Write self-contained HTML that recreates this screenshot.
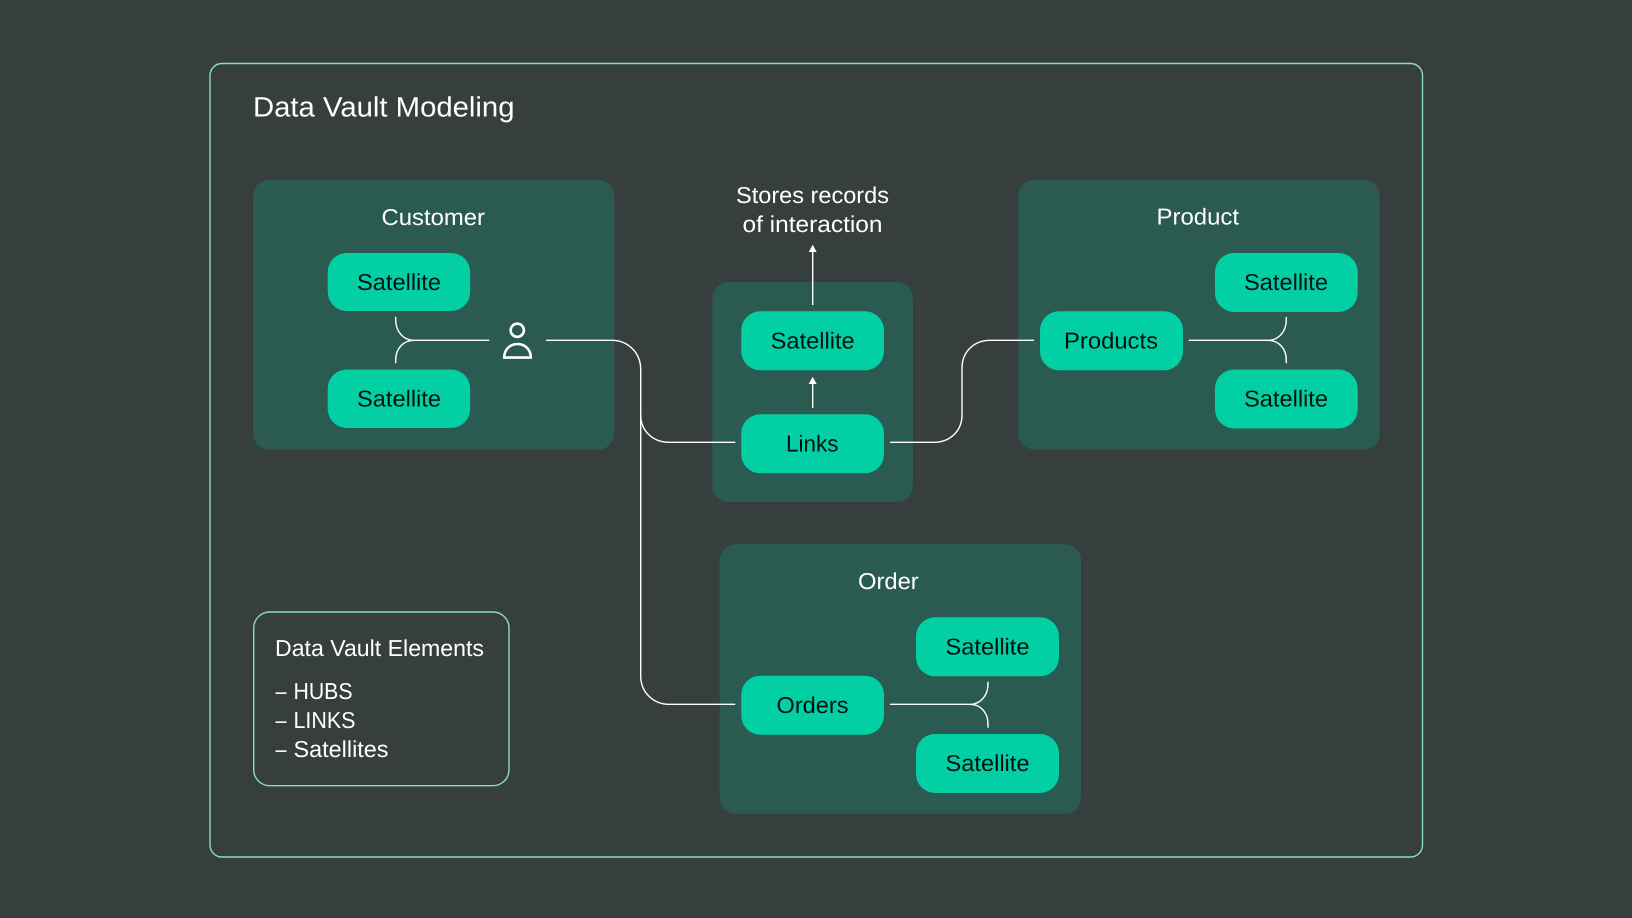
<!DOCTYPE html>
<html>
<head>
<meta charset="utf-8">
<style>
html,body{margin:0;padding:0;background:#373f3e;width:1632px;height:918px;overflow:hidden}
svg{display:block}
text{font-family:"Liberation Sans",sans-serif;text-rendering:geometricPrecision}
.w{fill:#fff}
.n{fill:#00120e}
.t{font-size:23px}
.c{fill:none;stroke:#fff;stroke-width:1.4}
</style>
</head>
<body>
<svg width="1632" height="918" viewBox="0 0 1632 918" xmlns="http://www.w3.org/2000/svg">
<rect width="1632" height="918" fill="#373f3e"/>
<rect x="210" y="63.5" width="1212.5" height="793.5" rx="12" fill="none" stroke="#8adcc5" stroke-width="1.4"/>
<text class="w" x="253" y="116.5" font-size="28" textLength="261.5" lengthAdjust="spacingAndGlyphs">Data Vault Modeling</text>

<rect x="253" y="180" width="361.3" height="269.5" rx="16" fill="#2b5b50"/>
<rect x="712.3" y="282" width="200.7" height="220" rx="16" fill="#2b5b50"/>
<rect x="1018.3" y="180" width="361.4" height="269.5" rx="16" fill="#2b5b50"/>
<rect x="719.7" y="544.3" width="361.3" height="269.5" rx="16" fill="#2b5b50"/>

<g fill="#03cfa5">
<rect x="327.7" y="253" width="142.5" height="58" rx="19"/>
<rect x="327.7" y="369.5" width="142.5" height="58.5" rx="19"/>
<rect x="741.3" y="311.3" width="142.7" height="59" rx="19"/>
<rect x="741.3" y="414.3" width="142.7" height="59" rx="19"/>
<rect x="1040" y="311.3" width="143" height="59" rx="19"/>
<rect x="1215" y="253" width="142.7" height="59" rx="19"/>
<rect x="1215" y="369.5" width="142.7" height="59" rx="19"/>
<rect x="741.3" y="675.7" width="142.7" height="59" rx="19"/>
<rect x="916" y="617.3" width="143" height="59" rx="19"/>
<rect x="916" y="734" width="143" height="59" rx="19"/>
</g>

<!-- connectors -->
<path class="c" d="M395.7 316.7 V320 C395.7 331 403 340.3 414 340.3 H489.3 M395.7 363.3 V360 C395.7 349 403 340.3 414 340.3"/>
<path class="c" d="M546 340.3 H612 C628 340.3 640.7 353 640.7 369 V676 C640.7 692 653 704.3 669 704.3 H735.3"/>
<path class="c" d="M640.7 415 C640.7 431 653 442.3 669 442.3 H735.3"/>
<path class="c" d="M890 442.3 H934 C950 442.3 962 431 962 415 V368 C962 352 974 340.3 990 340.3 H1034"/>
<path class="c" d="M1188.7 340.3 H1268 C1279 340.3 1286.3 331 1286.3 320 V317 M1268 340.3 C1279 340.3 1286.3 349 1286.3 360 V363.3"/>
<path class="c" d="M890 704.3 H970 C981 704.3 988 695 988 684 V681.7 M970 704.3 C981 704.3 988 713 988 724 V727.7"/>
<path class="c" d="M812.7 305 V250"/>
<path class="c" d="M812.7 408 V382"/>
<path d="M812.7 244.7 L816.7 252 H808.7 Z M812.7 376.7 L816.7 384 H808.7 Z" fill="#fff"/>

<!-- person -->
<circle cx="517.3" cy="330.3" r="6.6" fill="none" stroke="#fff" stroke-width="2.6"/>
<path d="M504.2 357.6 C504.2 349.5 510 344 517.5 344 C525 344 530.8 349.5 530.8 357.6 Z" fill="none" stroke="#fff" stroke-width="2.6"/>

<!-- group labels -->
<text class="w t" x="381.5" y="225" textLength="103.5" lengthAdjust="spacingAndGlyphs">Customer</text>
<text class="w t" x="1156.5" y="224.5" textLength="82.5" lengthAdjust="spacingAndGlyphs">Product</text>
<text class="w t" x="858" y="589" textLength="60.7" lengthAdjust="spacingAndGlyphs">Order</text>
<text class="w t" x="736" y="203" textLength="153" lengthAdjust="spacingAndGlyphs">Stores records</text>
<text class="w t" x="742.5" y="232" textLength="140" lengthAdjust="spacingAndGlyphs">of interaction</text>

<!-- node labels -->
<text class="n t" x="357" y="290" textLength="84" lengthAdjust="spacingAndGlyphs">Satellite</text>
<text class="n t" x="357" y="406.7" textLength="84" lengthAdjust="spacingAndGlyphs">Satellite</text>
<text class="n t" x="770.7" y="348.7" textLength="84" lengthAdjust="spacingAndGlyphs">Satellite</text>
<text class="n t" x="786" y="451.7" textLength="52.5" lengthAdjust="spacingAndGlyphs">Links</text>
<text class="n t" x="1064" y="348.7" textLength="94" lengthAdjust="spacingAndGlyphs">Products</text>
<text class="n t" x="1244" y="290" textLength="84" lengthAdjust="spacingAndGlyphs">Satellite</text>
<text class="n t" x="1244" y="406.7" textLength="84" lengthAdjust="spacingAndGlyphs">Satellite</text>
<text class="n t" x="776.5" y="713" textLength="72" lengthAdjust="spacingAndGlyphs">Orders</text>
<text class="n t" x="945.5" y="654.3" textLength="84" lengthAdjust="spacingAndGlyphs">Satellite</text>
<text class="n t" x="945.5" y="771" textLength="84" lengthAdjust="spacingAndGlyphs">Satellite</text>

<!-- legend -->
<rect x="253.7" y="612" width="255.3" height="173.7" rx="16" fill="none" stroke="#8adcc5" stroke-width="1.4"/>
<text class="w t" x="275" y="656" textLength="209" lengthAdjust="spacingAndGlyphs">Data Vault Elements</text>
<text class="w t" x="275.5" y="699" textLength="11" lengthAdjust="spacingAndGlyphs">–</text>
<text class="w t" x="293.5" y="699" textLength="59" lengthAdjust="spacingAndGlyphs">HUBS</text>
<text class="w t" x="275.5" y="728" textLength="11" lengthAdjust="spacingAndGlyphs">–</text>
<text class="w t" x="293.5" y="728" textLength="62" lengthAdjust="spacingAndGlyphs">LINKS</text>
<text class="w t" x="275.5" y="757" textLength="11" lengthAdjust="spacingAndGlyphs">–</text>
<text class="w t" x="293.5" y="757" textLength="95" lengthAdjust="spacingAndGlyphs">Satellites</text>
</svg>
</body>
</html>
